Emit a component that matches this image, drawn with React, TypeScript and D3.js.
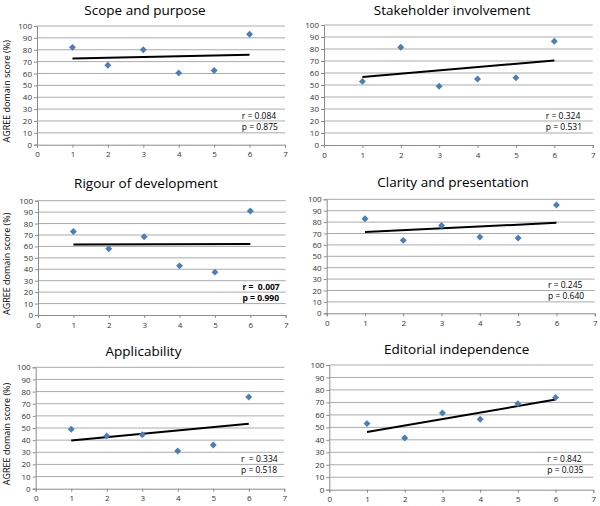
import React, { useEffect, useRef } from "react";
import * as d3 from "d3";

// data
const titles = [
  "Scope and purpose",
  "Stakeholder involvement",
  "Rigour of development",
  "Clarity and presentation",
  "Applicability",
  "Editorial independence",
];
const xValues = [1, 2, 3, 4, 5, 6];
const scopeScores = [82, 67, 80, 60.5, 62.5, 93];
const stakeholderScores = [53, 81.5, 49, 55, 56, 86.5];
const rigourScores = [73, 58, 68.5, 43, 37.5, 91];
const clarityScores = [83, 64, 77, 67, 66, 95];
const applicabilityScores = [49, 43.5, 44.5, 31, 36, 75.5];
const editorialScores = [53, 41.5, 61.5, 56.5, 69, 74];
const rLabels = ["r = 0.084", "r = 0.324", "r =  0.007", "r = 0.245", "r  = 0.334", "r = 0.842"];
const pLabels = ["p = 0.875", "p = 0.531", "p = 0.990", "p = 0.640", "p = 0.518", "p = 0.035"];
const boldStats = [false, false, true, false, false, false];
const yTicks = d3.range(0, 101, 10);
const xTicks = d3.range(0, 8, 1);
const yAxisLabel = "AGREE domain score (%)";

const seriesList = [
  scopeScores,
  stakeholderScores,
  rigourScores,
  clarityScores,
  applicabilityScores,
  editorialScores,
];

// plot boxes in page pixels: [left, right, top, bottom, titleX, titleY]
const boxes = [
  [37, 285, 26, 144.7, 145, 15],
  [324, 592.7, 25, 145, 452, 15],
  [38, 285.7, 200.7, 315, 146, 188],
  [326.7, 594.7, 199.3, 313.3, 453, 187],
  [35.7, 284.3, 367.3, 488.7, 143.5, 356],
  [329.3, 593.3, 365, 489.7, 456.7, 353.5],
];

const FONT = "'Open Sans', sans-serif";

const App = () => {
  const svgRef = useRef(null);
  const svgWidth = 600;
  const svgHeight = 506;

  useEffect(() => {
    const svg = d3
      .select(svgRef.current)
      .attr("width", svgWidth)
      .attr("height", svgHeight);

    svg.selectAll("*").remove();

    svg
      .append("rect")
      .attr("width", svgWidth)
      .attr("height", svgHeight)
      .attr("fill", "white");

    seriesList.forEach((ys, i) => {
      const [left, right, top, bottom, titleX, titleY] = boxes[i];
      const xScale = d3.scaleLinear().domain([0, 7]).range([left, right]);
      const yScale = d3.scaleLinear().domain([0, 100]).range([bottom, top]);

      const g = svg.append("g");

      // title
      g.append("text")
        .attr("x", titleX)
        .attr("y", titleY)
        .attr("text-anchor", "middle")
        .style("font-family", FONT)
        .style("font-size", "13.5px")
        .attr("fill", "#000")
        .text(titles[i]);

      // gridlines
      g.selectAll(".grid")
        .data(yTicks.slice(1))
        .enter()
        .append("line")
        .attr("x1", left)
        .attr("x2", right)
        .attr("y1", (d) => yScale(d))
        .attr("y2", (d) => yScale(d))
        .attr("stroke", "#ababab")
        .attr("stroke-width", 1);

      const yAxis = d3
        .axisLeft(yScale)
        .tickValues(yTicks)
        .tickSize(3)
        .tickPadding(2);
      const yAxisG = g
        .append("g")
        .attr("transform", `translate(${left},0)`)
        .call(yAxis);

      const xAxis = d3
        .axisBottom(xScale)
        .tickValues(xTicks)
        .tickFormat(d3.format("d"))
        .tickSize(3)
        .tickPadding(4);
      const xAxisG = g
        .append("g")
        .attr("transform", `translate(0,${bottom})`)
        .call(xAxis);

      [yAxisG, xAxisG].forEach((ax) => {
        ax.select(".domain").attr("stroke", "#8c8c8c");
        ax.selectAll(".tick line").attr("stroke", "#8c8c8c");
        ax.selectAll(".tick text")
          .style("font-family", FONT)
          .style("font-size", "8px")
          .attr("fill", "#333");
      });

      // y axis label on left column only
      if (i % 2 === 0) {
        const cy = (top + bottom) / 2 + 6;
        g.append("text")
          .attr("transform", `translate(10,${cy}) rotate(-90)`)
          .attr("text-anchor", "middle")
          .style("font-family", FONT)
          .style("font-size", "9px")
          .attr("fill", "#000")
          .text(yAxisLabel);
      }

      // least squares trend line
      const mx = d3.mean(xValues);
      const my = d3.mean(ys);
      const sxy = d3.sum(xValues, (x, k) => (x - mx) * (ys[k] - my));
      const sxx = d3.sum(xValues, (x) => (x - mx) * (x - mx));
      const slope = sxy / sxx;
      const intercept = my - slope * mx;
      const x1 = d3.min(xValues);
      const x2 = d3.max(xValues);
      g.append("line")
        .attr("x1", xScale(x1))
        .attr("x2", xScale(x2))
        .attr("y1", yScale(intercept + slope * x1))
        .attr("y2", yScale(intercept + slope * x2))
        .attr("stroke", "#000")
        .attr("stroke-width", 2);

      // diamond markers
      const diamond = d3.symbol().type(d3.symbolSquare).size(24);
      g.selectAll(".pt")
        .data(ys)
        .enter()
        .append("path")
        .attr("d", diamond)
        .attr(
          "transform",
          (d, k) => `translate(${xScale(xValues[k])},${yScale(d)}) rotate(45)`
        )
        .attr("fill", "#4a7ebb");

      // stats annotation
      const sx = xScale(5.78);
      const sy = yScale(22);
      [rLabels[i], pLabels[i]].forEach((t, k) => {
        g.append("text")
          .attr("x", sx)
          .attr("y", sy + k * 11)
          .style("font-family", FONT)
          .style("font-size", "8.5px")
          .style("font-weight", boldStats[i] ? "bold" : "normal")
          .style("white-space", "pre")
          .attr("fill", "#000")
          .text(t);
      });
    });
  }, []);

  return (
    <svg
      ref={svgRef}
      style={{ display: "block", position: "absolute", left: 0, top: 0 }}
    ></svg>
  );
};

export default App;
